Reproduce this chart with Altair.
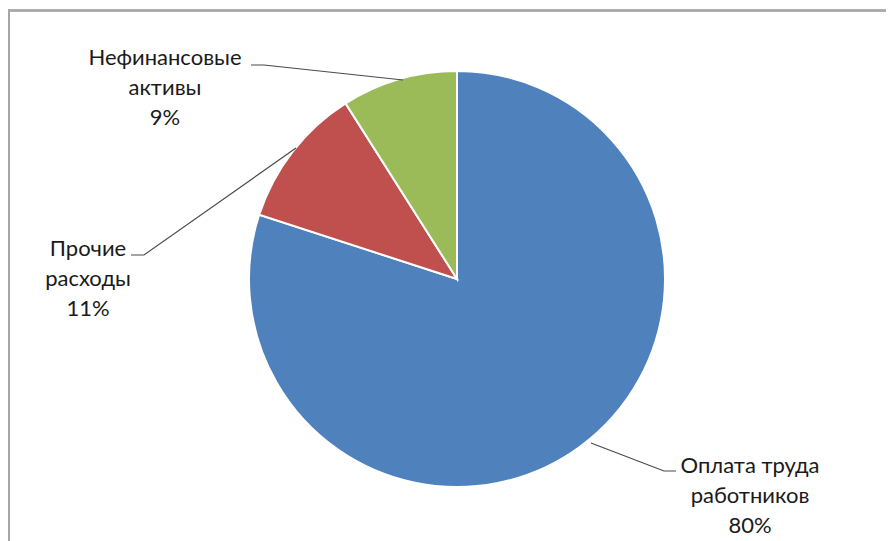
import altair as alt
import pandas as pd

# ---- data ----
categories = ["Оплата труда работников", "Прочие расходы", "Нефинансовые активы"]
values = [80, 11, 9]
label_lines = [["Оплата труда", "работников", "80%"],
               ["Прочие", "расходы", "11%"],
               ["Нефинансовые", "активы", "9%"]]

# ---- style ----
colors = ["#4F81BD", "#C0504D", "#9BBB59"]
W, H = 878, 533
CX, CY, R = 448, 270, 208
label_pos = [(741, 457), (79, 240), (156, 49)]   # centre x, first line y
line_gap = 30
leaders = [[(667, 462), (655, 462), (582, 434)],
           [(122, 246), (135, 246), (287, 139)],
           [(242, 56), (255, 56), (394, 71)]]

pie_df = pd.DataFrame({"category": categories, "value": values,
                       "idx": list(range(len(categories)))})

text_rows = []
for (lx, ly), lines in zip(label_pos, label_lines):
    for i, t in enumerate(lines):
        text_rows.append({"text": t, "x": lx, "y": ly + i * line_gap})
text_df = pd.DataFrame(text_rows)

lead_rows = []
for g, pts in enumerate(leaders):
    for k, (px, py) in enumerate(pts):
        lead_rows.append({"g": g, "k": k, "x": px, "y": py})
lead_df = pd.DataFrame(lead_rows)

arc = alt.Chart(pie_df).mark_arc(radius=R, stroke="white", strokeWidth=2).encode(
    theta=alt.Theta("value:Q", stack=True),
    color=alt.Color("category:N", scale=alt.Scale(domain=categories, range=colors), legend=None),
    order=alt.Order("idx:Q"),
    x=alt.value(CX),
    y=alt.value(CY),
)

leader = alt.Chart(lead_df).mark_line(color="#4a4a4a", strokeWidth=1.2).encode(
    x=alt.X("x:Q", scale=None, axis=None),
    y=alt.Y("y:Q", scale=None, axis=None),
    detail="g:N",
    order="k:Q",
)

text = alt.Chart(text_df).mark_text(
    font="Lato", fontSize=22, color="#1a1a1a", align="center", baseline="middle"
).encode(
    x=alt.X("x:Q", scale=None, axis=None),
    y=alt.Y("y:Q", scale=None, axis=None),
    text="text:N",
)

top_border = alt.Chart(pie_df).mark_rule(color="#a6a6a6", strokeWidth=2).encode(
    x=alt.value(0), x2=alt.value(W + 20), y=alt.value(1.5))
left_border = alt.Chart(pie_df).mark_rule(color="#a6a6a6", strokeWidth=2).encode(
    x=alt.value(0), y=alt.value(0), y2=alt.value(H + 20))

chart = alt.layer(arc, leader, text, top_border, left_border).properties(
    width=W, height=H, padding=0,
    autosize=alt.AutoSizeParams(type="fit", contains="padding"),
).configure_view(stroke=None)

chart.save("out.html", embed_options={"renderer": "svg", "actions": False})
